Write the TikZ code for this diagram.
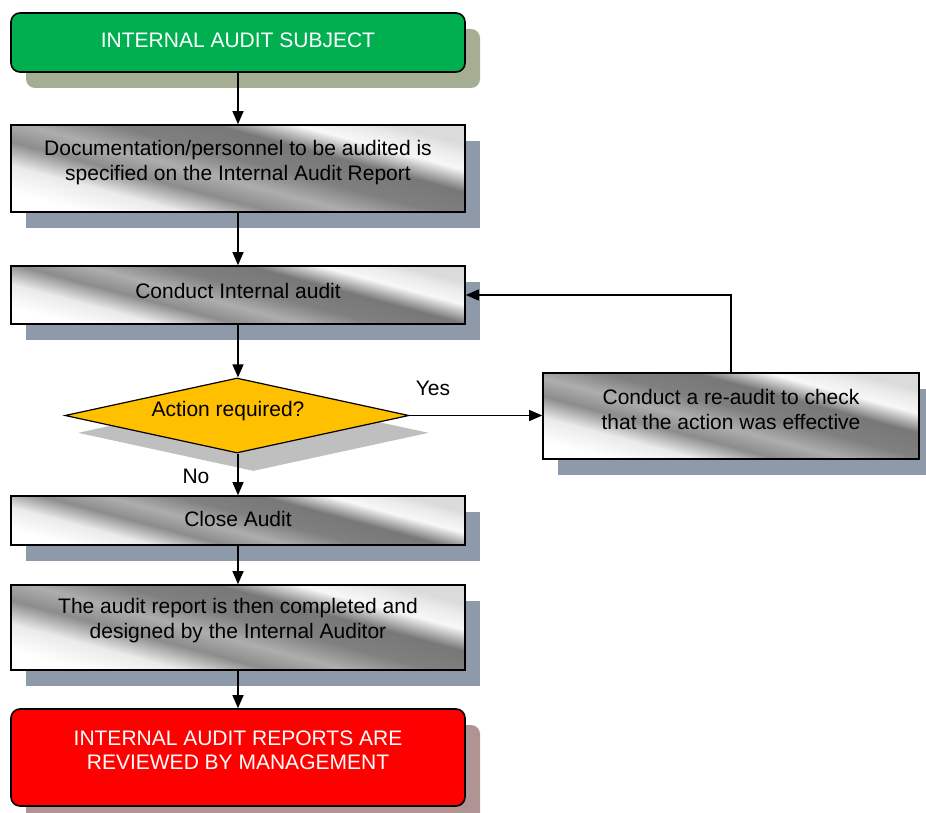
\documentclass[tikz,border=0pt]{standalone}
\usepackage{fontspec}
\setmainfont{Liberation Sans}
\usetikzlibrary{shapes.geometric,shadows,arrows.meta}
\definecolor{gW}{gray}{0.97}
\definecolor{gL}{gray}{0.92}
\definecolor{gA}{gray}{0.55}
\definecolor{gB}{gray}{0.68}
\definecolor{gC}{gray}{0.50}
\definecolor{gD}{gray}{0.47}
\definecolor{gE}{gray}{0.86}
\definecolor{startgreen}{RGB}{0,176,80}
\definecolor{startshadow}{RGB}{165,174,146}
\definecolor{slate}{RGB}{142,154,170}
\definecolor{decfill}{RGB}{255,192,0}
\definecolor{decshadow}{RGB}{191,191,191}
\definecolor{endred}{RGB}{255,0,0}
\definecolor{endshadow}{RGB}{176,148,148}
\pgfdeclarehorizontalshading{chrome}{100bp}{color(0bp)=(white); color(25bp)=(white); color(33bp)=(gL); color(40bp)=(gA); color(46bp)=(gB); color(53bp)=(gC); color(61bp)=(gD); color(67.5bp)=(gW); color(72bp)=(gL); color(75bp)=(gE); color(100bp)=(gE)}
\tikzset{
  lbl/.style={font=\fontsize{21}{24.5}\selectfont, align=center, inner sep=0pt},
  procbox/.style={draw=black, line width=1.6pt, shading=chrome, shading angle=75,
    minimum width=454pt, inner sep=0pt,
    drop shadow={shadow xshift=15pt, shadow yshift=-16pt, fill=slate, opacity=1}},
  termbox/.style={draw=black, line width=1.6pt, rounded corners=9pt,
    minimum width=454pt, inner sep=0pt},
  decbox/.style={diamond, draw=black, line width=1.2pt, fill=decfill, aspect=4.6,
    minimum width=344pt, minimum height=75pt, inner sep=0pt,
    drop shadow={shadow xshift=16pt, shadow yshift=-17pt, shadow scale=1.02, fill=decshadow, opacity=1}},
  arr/.style={line width=1.3pt, -{Triangle[length=13pt,width=11pt]}}
}
\begin{document}
\begin{tikzpicture}[x=1pt,y=-1pt]
\useasboundingbox (0,0) rectangle (926,813);
% terminal start
\node[termbox, fill=startgreen, minimum height=59pt,
  drop shadow={shadow xshift=15pt, shadow yshift=-16pt, fill=startshadow, opacity=1}]
  (start) at (238,42.5) {};
\node[lbl, text=white] (startt) at (238,40) {INTERNAL AUDIT SUBJECT};
% process boxes
\node[procbox, minimum height=87pt] (doc) at (238,168.5) {};
\node[lbl] (doct) at (238,162.5) {Documentation/personnel to be audited is\\specified on the Internal Audit Report};
\node[procbox, minimum height=58pt] (conduct) at (238,295) {};
\node[lbl] (conductt) at (238,291) {Conduct Internal audit};
\node[decbox] (dec) at (237,415.5) {};
\node[lbl] (dect) at (228,411) {Action required?};
\node[procbox, minimum width=376pt, minimum height=86pt] (reaudit) at (731,416) {};
\node[lbl] (reauditt) at (731,409.5) {Conduct a re-audit to check\\that the action was effective};
\node[procbox, minimum height=49pt] (close) at (238,520.5) {};
\node[lbl] (closet) at (238,519) {Close Audit};
\node[procbox, minimum height=85pt] (report) at (238,627.5) {};
\node[lbl] (reportt) at (238,620.5) {The audit report is then completed and\\designed by the Internal Auditor};
\node[termbox, fill=endred, minimum height=97pt,
  drop shadow={shadow xshift=15pt, shadow yshift=-16pt, fill=endshadow, opacity=1}]
  (end) at (238,757.5) {};
\node[lbl, text=white] (endt) at (238,750.5) {INTERNAL AUDIT REPORTS ARE\\REVIEWED BY MANAGEMENT};
% connectors
\draw[arr] (start.south -| 238,0) -- (doc.north -| 238,0);
\draw[arr] (doc.south) -- (conduct.north);
\draw[arr] (conduct.south) -- (conduct.south |- dec.north);
\draw[arr] (dec.east) -- (dec.east -| reaudit.west);
\draw[arr] (reaudit.north) |- (conduct.east);
\draw[arr] (dec.south -| close.north) -- (close.north);
\draw[arr] (close.south) -- (report.north);
\draw[arr] (report.south) -- (end.north);
% labels
\node[lbl] (yes) at (433,388) {Yes};
\node[lbl] (no) at (196,476) {No};
\end{tikzpicture}
\end{document}
